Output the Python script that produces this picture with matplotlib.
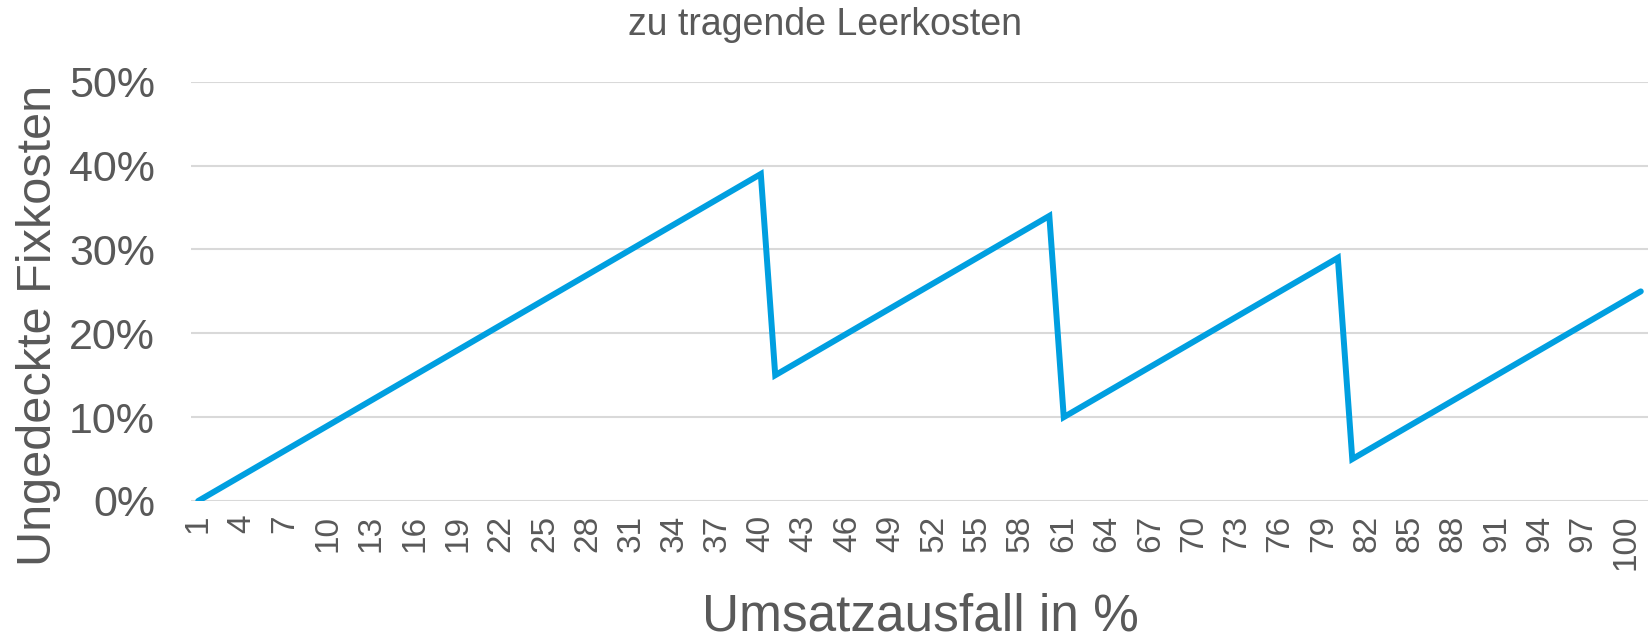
import matplotlib
matplotlib.use("Agg")
import matplotlib.pyplot as plt
from matplotlib.ticker import FuncFormatter

plt.rcParams['font.family'] = ['Liberation Sans', 'DejaVu Sans']

# Data: x = Umsatzausfall in % (categories 1..101), y = ungedeckte Fixkosten (%)
categories = list(range(1, 102))
seg1 = [0, 1, 2, 3, 4, 5, 6, 7, 8, 9, 10, 11, 12, 13, 14, 15, 16, 17, 18, 19,
        20, 21, 22, 23, 24, 25, 26, 27, 28, 29, 30, 31, 32, 33, 34, 35, 36, 37, 38, 39]
seg2 = [15, 16, 17, 18, 19, 20, 21, 22, 23, 24, 25, 26, 27, 28, 29, 30, 31, 32, 33, 34]
seg3 = [10, 11, 12, 13, 14, 15, 16, 17, 18, 19, 20, 21, 22, 23, 24, 25, 26, 27, 28, 29]
seg4 = [5, 6, 7, 8, 9, 10, 11, 12, 13, 14, 15, 16, 17, 18, 19, 20, 21, 22, 23, 24, 25]
values_pct = seg1 + seg2 + seg3 + seg4
tick_labels = [str(v) for v in range(1, 101, 3)]
yticks = [0, 10, 20, 30, 40, 50]

title = "zu tragende Leerkosten"
xlabel = "Umsatzausfall in %"
ylabel = "Ungedeckte Fixkosten"

gray = "#595959"
grid = "#d9d9d9"
blue = "#009fe0"

fig = plt.figure(figsize=(16.51, 6.39), dpi=100)
ax = fig.add_axes([191 / 1651, 0.216, 1457 / 1651, 0.656])

ax.plot(categories, values_pct, color=blue, linewidth=4.3, solid_joinstyle='miter',
        solid_capstyle='round', zorder=3)

ax.set_xlim(0.5, 101.5)
ax.set_ylim(0, 50)
ax.set_yticks(yticks)
ax.yaxis.set_major_formatter(FuncFormatter(lambda v, p: f"{v:.0f}%"))
ax.set_xticks([int(t) for t in tick_labels])
ax.set_xticklabels(tick_labels, rotation=90)

for s in ax.spines.values():
    s.set_visible(False)
ax.grid(axis='y', color=grid, linewidth=1.5, zorder=0)
ax.tick_params(axis='both', length=0, colors=gray)
ax.tick_params(axis='y', labelsize=31, pad=26)
ax.tick_params(axis='x', labelsize=24, pad=10)

ax.set_xlabel(xlabel, fontsize=37, color=gray, va='center')
ax.xaxis.set_label_coords((920 - 191) / 1457, -0.276)
ax.set_ylabel(ylabel, fontsize=35, color=gray, va='center')
ax.yaxis.set_label_coords(-0.105, 0.418)

fig.text(825 / 1651, 1 - 25 / 639, title, fontsize=27, color=gray, ha='center', va='center')

fig.savefig("out.png", dpi=100)
